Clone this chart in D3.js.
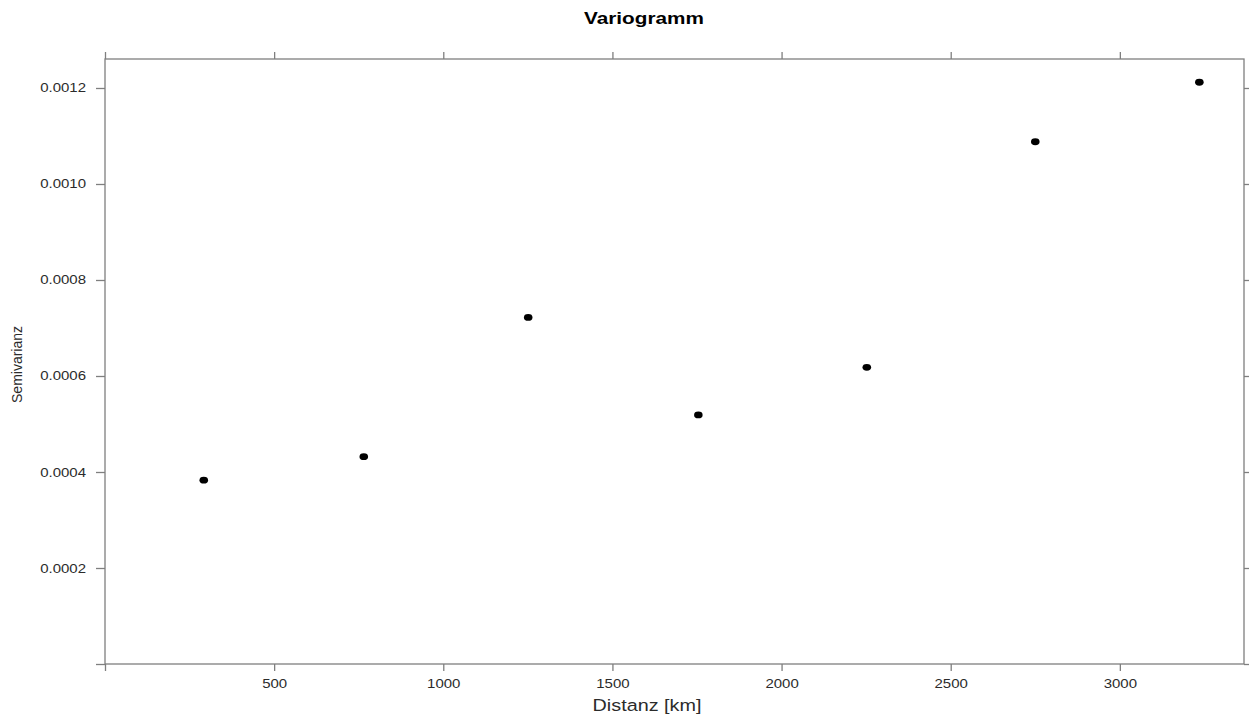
<!DOCTYPE html>
<html>
<head>
<meta charset="utf-8">
<script src="https://cdn.jsdelivr.net/npm/d3@7"></script>
<style>
  body { margin: 0; background: #fff; }
  svg { display: block; font-family: "Liberation Sans", Arial, Helvetica, sans-serif; }
</style>
</head>
<body>
<svg id="chart" width="1249" height="715"></svg>
<script>
// Empirical variogram: lag distance (km) vs. semivariance
const distance = [292, 765, 1251, 1754, 2252, 2750, 3235];
const semivariance = [0.000383, 0.000432, 0.000722, 0.000519, 0.000618, 0.001088, 0.001212];
const xTicks = [0, 500, 1000, 1500, 2000, 2500, 3000];
const yTicks = [0, 0.0002, 0.0004, 0.0006, 0.0008, 0.0010, 0.0012];

const svg = d3.select("#chart");
const margin = { left: 105, right: 5, top: 59, bottom: 51 };
const W = 1249, H = 715;
const axisColor = "#7f7f7f";
const textColor = "#2b2b2b";
const stretch = 1.2; // text is drawn wide

const x = d3.scaleLinear().domain([0, 3367]).range([margin.left, W - margin.right]);
const y = d3.scaleLinear().domain([0, 0.0012604]).range([H - margin.bottom, margin.top]);

const fmtY = v => v === 0 ? "" : d3.format(".4f")(v);
const fmtX = v => v === 0 ? "" : String(v);

function styleAxis(g) {
  g.select(".domain").remove();
  g.selectAll(".tick line").attr("stroke", axisColor).attr("stroke-width", 1.3);
  g.selectAll(".tick text")
    .attr("fill", textColor).attr("font-size", 12.5)
    .attr("x", function () { return (+d3.select(this).attr("x") || 0) / stretch; })
    .attr("transform", `scale(${stretch},1)`);
}

// Bottom axis (labelled) and top axis (ticks only)
svg.append("g").attr("transform", `translate(0,${y(0)})`)
  .call(d3.axisBottom(x).tickValues(xTicks).tickFormat(fmtX).tickSize(7).tickPadding(8))
  .call(styleAxis);
svg.append("g").attr("transform", `translate(0,${margin.top})`)
  .call(d3.axisTop(x).tickValues(xTicks).tickFormat("").tickSize(7))
  .call(styleAxis);

// Left axis (labelled) and right axis (ticks only)
svg.append("g").attr("transform", `translate(${margin.left},0)`)
  .call(d3.axisLeft(y).tickValues(yTicks).tickFormat(fmtY).tickSize(9).tickPadding(10))
  .call(styleAxis);
svg.append("g").attr("transform", `translate(${W - margin.right},0)`)
  .call(d3.axisRight(y).tickValues(yTicks).tickFormat("").tickSize(7))
  .call(styleAxis);

// Panel frame
svg.append("rect")
  .attr("x", x.range()[0]).attr("y", margin.top)
  .attr("width", x.range()[1] - x.range()[0])
  .attr("height", y(0) - margin.top)
  .attr("fill", "none").attr("stroke", axisColor).attr("stroke-width", 1.3);

// Points
svg.append("g").selectAll("ellipse")
  .data(distance.map((d, i) => [d, semivariance[i]]))
  .join("ellipse")
  .attr("cx", d => x(d[0]))
  .attr("cy", d => y(d[1]))
  .attr("rx", 4.3).attr("ry", 3.4)
  .attr("fill", "#000");

// Title and axis labels
svg.append("text")
  .attr("transform", `translate(644,24) scale(1.22,1)`)
  .attr("text-anchor", "middle")
  .attr("font-size", 17).attr("font-weight", "bold").attr("fill", "#000")
  .text("Variogramm");

svg.append("text")
  .attr("transform", `translate(647,711) scale(${stretch},1)`)
  .attr("text-anchor", "middle")
  .attr("font-size", 16.5).attr("fill", textColor)
  .text("Distanz [km]");

svg.append("text")
  .attr("transform", `translate(22,${(margin.top + y(0)) / 2 + 3}) rotate(-90) scale(1,1.1)`)
  .attr("text-anchor", "middle")
  .attr("font-size", 14).attr("fill", textColor)
  .text("Semivarianz");
</script>
</body>
</html>
